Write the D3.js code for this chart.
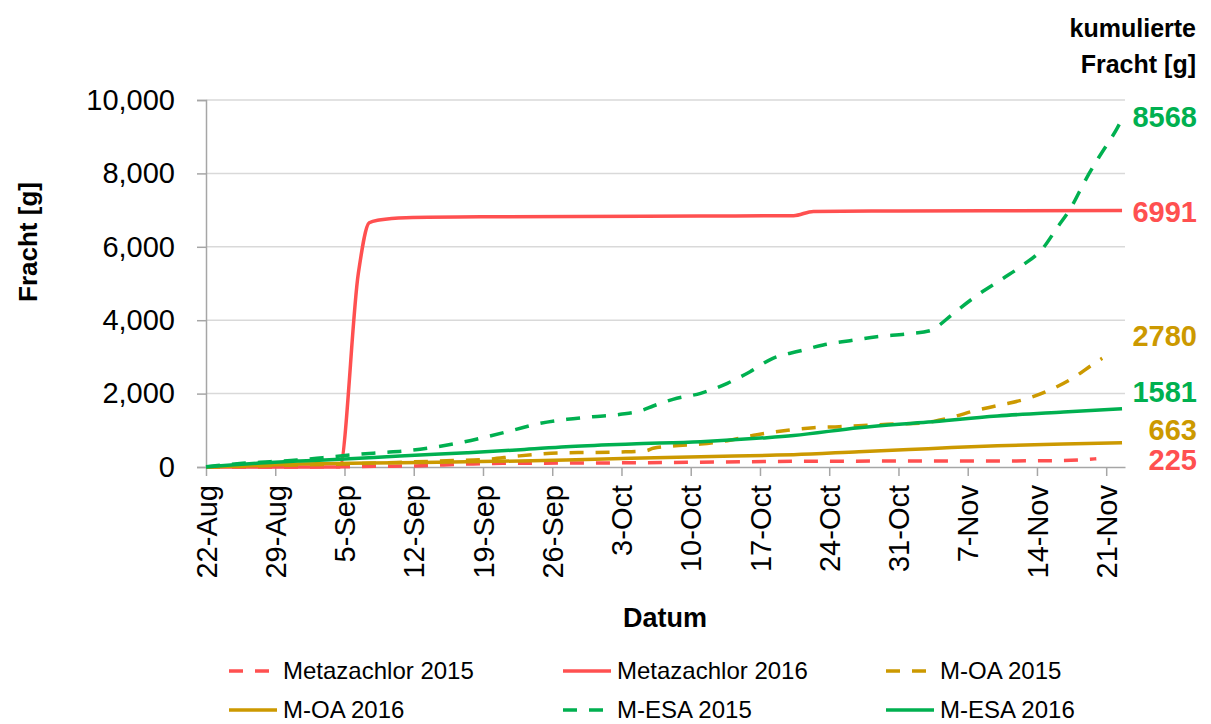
<!DOCTYPE html>
<html><head><meta charset="utf-8">
<script src="https://cdn.jsdelivr.net/npm/d3@7"></script>
<style>
body{margin:0;background:#fff;}
svg{display:block;font-family:"Liberation Sans",Arial,sans-serif;}
</style>
</head><body>
<svg id="chart" width="1211" height="724"></svg>
<script>
// ---- data (x = days after 22-Aug) ----
const tickDays   = [0,7,14,21,28,35,42,49,56,63,70,77,84,91];
const tickLabels = ["22-Aug","29-Aug","5-Sep","12-Sep","19-Sep","26-Sep","3-Oct","10-Oct","17-Oct","24-Oct","31-Oct","7-Nov","14-Nov","21-Nov"];
const yTicks = [0,2000,4000,6000,8000,10000];

const seriesNames = ["Metazachlor 2015","Metazachlor 2016","M-OA 2015","M-OA 2016","M-ESA 2015","M-ESA 2016"];
const seriesColors = ["#FF5050","#FF5050","#CC9900","#CC9900","#00B050","#00B050"];
const seriesDashed = [true,false,true,false,true,false];

const metaz2015Days   = [0,13,17,21,24,27,30,40,50,60,70,80,86,89,90];
const metaz2015Values = [0,5,20,30,55,85,100,110,130,155,162,165,175,205,225];

const metaz2016Days   = [0,13.5,15.4,16.5,17.5,20.2,30,50,59.4,61.4,70,92.6];
const metaz2016Values = [0,0,5278,6657,6730,6794,6820,6840,6848,6965,6975,6991];

const moa2015Days   = [0,7,14,21,25,28.5,31.2,33.7,36.4,39.1,41.9,44.5,45.2,47.2,50,52.7,55.7,58.4,61.4,64,67,69.5,72.2,74.2,75.6,77.6,80.3,83,85.3,87.7,89.7,90.6];
const moa2015Values = [0,40,80,140,175,210,290,354,390,395,409,444,509,572,627,717,880,989,1071,1098,1136,1172,1190,1281,1371,1526,1690,1862,2098,2434,2807,2962];

const moa2016Days   = [0,9.5,19.6,31.8,36.4,43,50,57,59.4,66,73,80,86.7,92.6];
const moa2016Values = [0,80,118,165,190,236,281,320,335,418,500,581,627,663];

const mesa2015Days   = [0,3.7,6.5,9.2,11.8,14.6,17.6,20.3,23,25.7,28.4,31,33.8,36.5,39.1,41.9,44.2,45.2,47.2,50,52.7,55,57.3,60,62.4,65.1,67.8,70.9,73.2,73.9,75.4,78,80.6,82.6,84.6,86,87.4,89,90.2,92.1,92.6];
const mesa2015Values = [10,100,145,190,254,327,390,444,536,663,826,1000,1190,1299,1371,1436,1553,1662,1844,2008,2281,2597,2962,3160,3325,3442,3551,3624,3714,3823,4150,4687,5142,5505,5960,6505,7050,7867,8412,9229,9480];

const mesa2016Days   = [0,6,9.5,13.5,19.6,26.4,31.8,36.4,43,50,56.7,59.4,66,73,80,86.7,92.6];
const mesa2016Values = [0,115,163,210,300,390,470,553,627,690,800,860,1071,1226,1390,1499,1589];

const endLabels      = ["8568","6991","2780","1581","663","225"];
const endLabelValues = [9537,6949,3570,2044,1008,190];
const endLabelColors = ["#00B050","#FF5050","#CC9900","#00B050","#CC9900","#FF5050"];

const allDays   = [metaz2015Days,metaz2016Days,moa2015Days,moa2016Days,mesa2015Days,mesa2016Days];
const allValues = [metaz2015Values,metaz2016Values,moa2015Values,moa2016Values,mesa2015Values,mesa2016Values];

// ---- layout ----
const svg = d3.select("#chart");
const plotL = 206, plotR = 1125, plotT = 100, plotB = 467;
const x = d3.scaleLinear().domain([0, 92.9]).range([plotL, plotR]);
const y = d3.scaleLinear().domain([0, 10000]).range([plotB, plotT]);

// gridlines
svg.append("g").selectAll("line").data(yTicks.filter(d => d > 0)).join("line")
  .attr("x1", plotL).attr("x2", plotR)
  .attr("y1", d => y(d)).attr("y2", d => y(d))
  .attr("stroke", "#D9D9D9").attr("stroke-width", 1.5);

// y axis
const yAxis = svg.append("g").attr("transform", `translate(${plotL},0)`)
  .call(d3.axisLeft(y).tickValues(yTicks).tickFormat(d3.format(",")).tickSize(9).tickPadding(22));
yAxis.select(".domain").attr("stroke", "#A6A6A6").attr("stroke-width", 1.5);
yAxis.selectAll(".tick line").attr("stroke", "#A6A6A6").attr("stroke-width", 1.5);
yAxis.selectAll(".tick text").attr("font-size", 29).attr("fill", "#000")
  .attr("font-family", "Liberation Sans, Arial, sans-serif");

// x axis
const xAxis = svg.append("g").attr("transform", `translate(0,${plotB})`)
  .call(d3.axisBottom(x).tickValues(tickDays).tickFormat((d, i) => tickLabels[i]).tickSize(9).tickSizeOuter(0));
xAxis.select(".domain").attr("stroke", "#A6A6A6").attr("stroke-width", 1.5);
xAxis.selectAll(".tick line").attr("stroke", "#A6A6A6").attr("stroke-width", 1.5);
xAxis.selectAll(".tick text")
  .attr("font-size", 29).attr("fill", "#000")
  .attr("font-family", "Liberation Sans, Arial, sans-serif")
  .attr("text-anchor", "end")
  .attr("transform", "translate(0,18) rotate(-90)")
  .attr("x", 0).attr("y", 0).attr("dy", "0.35em");

// lines
const line = d3.line().x(d => x(d[0])).y(d => y(d[1])).curve(d3.curveMonotoneX);
seriesNames.forEach((name, i) => {
  const pts = allDays[i].map((d, j) => [d, allValues[i][j]]);
  svg.append("path").datum(pts)
    .attr("d", line)
    .attr("fill", "none")
    .attr("stroke", seriesColors[i])
    .attr("stroke-width", 3.5)
    .attr("stroke-linejoin", "round")
    .attr("stroke-dasharray", seriesDashed[i] ? "14,12" : null);
});

// end labels
svg.append("g").selectAll("text").data(endLabels).join("text")
  .attr("x", 1197).attr("y", (d, i) => y(endLabelValues[i]))
  .attr("dy", "0.36em")
  .attr("text-anchor", "end")
  .attr("font-size", 29).attr("font-weight", "bold")
  .attr("fill", (d, i) => endLabelColors[i])
  .text(d => d);

// corner title
svg.append("text").attr("x", 1196).attr("y", 37).attr("text-anchor", "end")
  .attr("font-size", 25).attr("font-weight", "bold").text("kumulierte");
svg.append("text").attr("x", 1196).attr("y", 73).attr("text-anchor", "end")
  .attr("font-size", 25).attr("font-weight", "bold").text("Fracht [g]");

// axis titles
svg.append("text").attr("transform", "translate(37,242) rotate(-90)")
  .attr("text-anchor", "middle").attr("font-size", 26).attr("font-weight", "bold").text("Fracht [g]");
svg.append("text").attr("x", 665).attr("y", 627)
  .attr("text-anchor", "middle").attr("font-size", 27).attr("font-weight", "bold").text("Datum");

// legend
const legX = [229, 563, 886];
const legY = [671, 710];
const lg = svg.append("g");
seriesNames.forEach((name, i) => {
  const col = i % 3, row = Math.floor(i / 3);
  const gx = legX[col], gy = legY[row];
  lg.append("line").attr("x1", gx).attr("x2", gx + 48).attr("y1", gy).attr("y2", gy)
    .attr("stroke", seriesColors[i]).attr("stroke-width", 3.5)
    .attr("stroke-dasharray", seriesDashed[i] ? "14,12" : null);
  lg.append("text").attr("x", gx + 54).attr("y", gy).attr("dy", "0.35em")
    .attr("font-size", 24).attr("fill", "#000").text(name);
});
</script>
</body></html>
